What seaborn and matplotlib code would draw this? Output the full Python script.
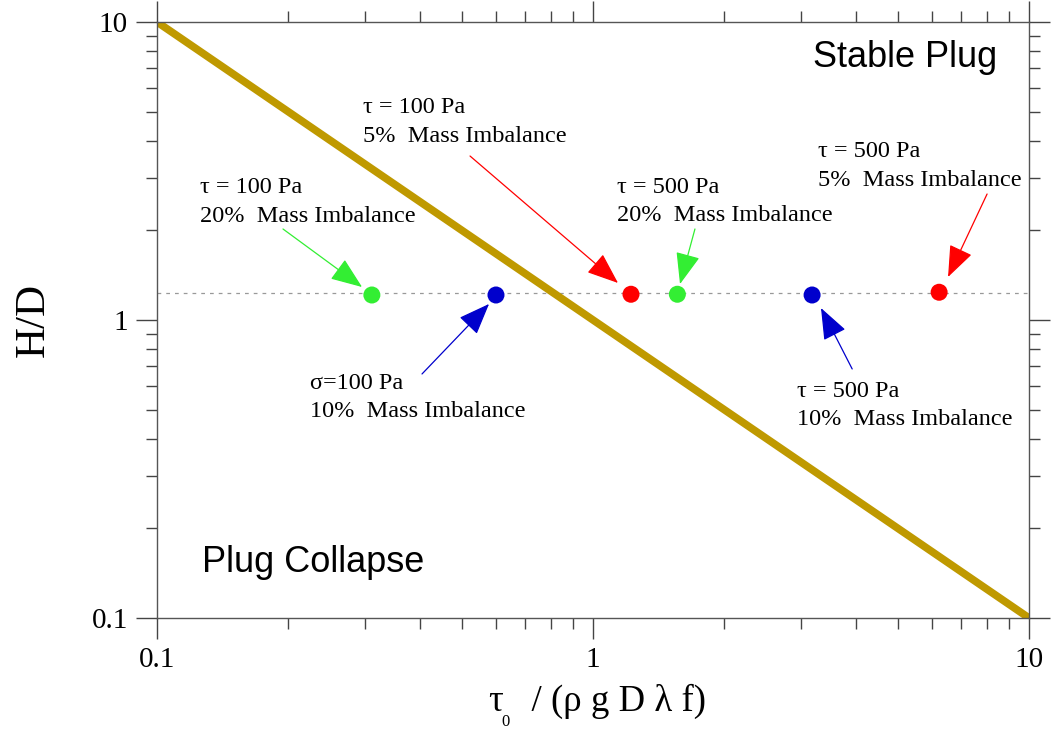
import matplotlib
matplotlib.use("Agg")
import matplotlib.pyplot as plt
import matplotlib.ticker as mticker
import seaborn as sns
import pandas as pd

sns.set_theme(style="ticks")
plt.rcParams["font.family"] = ["Liberation Serif", "DejaVu Serif"]
plt.rcParams["text.color"] = "black"
plt.rcParams["axes.labelcolor"] = "black"
plt.rcParams["xtick.labelcolor"] = "black"
plt.rcParams["ytick.labelcolor"] = "black"

# ---- data ----
line_x = [0.1, 10.0]
line_y = [10.0, 0.1]
ref_level = 1.23

pt_x = [0.311, 0.599, 1.222, 1.561, 3.18, 6.22]
pt_y = [1.213, 1.213, 1.22, 1.22, 1.213, 1.239]
pt_group = ["g20", "b10", "r5", "g20b", "b10b", "r5b"]
pt_colors = ["#33EE33", "#0000CC", "#FF0000", "#33EE33", "#0000CC", "#FF0000"]

ann_text = [
    "τ = 100 Pa\n20%  Mass Imbalance",
    "σ=100 Pa\n10%  Mass Imbalance",
    "τ = 100 Pa\n5%  Mass Imbalance",
    "τ = 500 Pa\n20%  Mass Imbalance",
    "τ = 500 Pa\n10%  Mass Imbalance",
    "τ = 500 Pa\n5%  Mass Imbalance",
]
ann_text_x = [0.1255, 0.2244, 0.297, 1.135, 2.938, 3.281]
ann_text_y = [2.489, 0.5495, 4.617, 2.499, 0.5164, 3.287]
arrow_tail_x = [0.1945, 0.4053, 0.5223, 1.713, 3.93, 8.013]
arrow_tail_y = [2.02, 0.659, 3.55, 2.02, 0.685, 2.647]
arrow_tip_x = [0.2953, 0.5775, 1.141, 1.583, 3.333, 6.52]
arrow_tip_y = [1.29, 1.132, 1.331, 1.32, 1.097, 1.394]
arrow_colors = ["#33EE33", "#0000CC", "#FF0000", "#33EE33", "#0000CC", "#FF0000"]

x_ticks = [0.1, 1, 10]
x_tick_labels = ["0.1", "1", "10"]
y_ticks = [0.1, 1, 10]
y_tick_labels = ["0.1", "1", "10"]

# ---- figure ----
fig = plt.figure(figsize=(10.51, 7.33), dpi=100)
ax = fig.add_axes([0.1494, 0.1569, 0.8297, 0.8131])

ax.axhline(ref_level, ls=(0, (3, 4)), color="#999999", lw=0.9, zorder=1)
sns.lineplot(x=line_x, y=line_y, ax=ax, color="#BF9900", lw=5.5, zorder=2)
df = pd.DataFrame({"x": pt_x, "y": pt_y, "g": pt_group})
sns.scatterplot(data=df, x="x", y="y", hue="g",
                palette=dict(zip(pt_group, pt_colors)), s=150,
                edgecolor="none", legend=False, ax=ax, zorder=3)

ax.set_xscale("log")
ax.set_yscale("log")
ax.set_xlim(0.1, 10)
ax.set_ylim(0.1, 10)

ax.xaxis.set_major_locator(mticker.FixedLocator(x_ticks))
ax.xaxis.set_major_formatter(mticker.FixedFormatter(x_tick_labels))
ax.yaxis.set_major_locator(mticker.FixedLocator(y_ticks))
ax.yaxis.set_major_formatter(mticker.FixedFormatter(y_tick_labels))
ax.xaxis.set_minor_locator(mticker.LogLocator(base=10, subs=range(2, 10)))
ax.yaxis.set_minor_locator(mticker.LogLocator(base=10, subs=range(2, 10)))
ax.xaxis.set_minor_formatter(mticker.NullFormatter())
ax.yaxis.set_minor_formatter(mticker.NullFormatter())

ax.tick_params(which="both", direction="out", top=True, right=True,
               labeltop=False, labelright=False, color="#444444", width=1.0,
               labelcolor="black")
ax.tick_params(which="major", length=15, labelsize=21, pad=6)
ax.tick_params(which="minor", length=8)
for sp in ax.spines.values():
    sp.set_color("#555555")
    sp.set_linewidth(1.0)

ax.set_xlabel("τ   / (ρ g D λ f)", fontsize=26.5, color="black")
ax.xaxis.set_label_coords(0.5057, -0.11)
ax.set_ylabel("H/D", fontsize=31, labelpad=28, color="black")
fig.text(506 / 1051, 1 - 722 / 733, "0", fontsize=12, ha="center", va="center")

for t, tx, ty in zip(ann_text, ann_text_x, ann_text_y):
    ax.text(tx, ty, t, fontsize=17.5, ha="left", va="center", linespacing=1.45,
            color="black")

for hx, hy, tx, ty, c in zip(arrow_tip_x, arrow_tip_y, arrow_tail_x, arrow_tail_y, arrow_colors):
    ax.annotate("", xy=(hx, hy), xytext=(tx, ty),
                arrowprops=dict(arrowstyle="-|>,head_length=0.9,head_width=0.35",
                                color=c, lw=0.9, shrinkA=0, shrinkB=0,
                                mutation_scale=22))

ax.text(0.752, 0.9396, "Stable Plug", transform=ax.transAxes, fontsize=26,
        family=["Liberation Sans", "DejaVu Sans"], ha="left", va="center",
        color="black")
ax.text(0.0516, 0.0923, "Plug Collapse", transform=ax.transAxes, fontsize=26,
        family=["Liberation Sans", "DejaVu Sans"], ha="left", va="center",
        color="black")

fig.savefig("out.png", dpi=100)
